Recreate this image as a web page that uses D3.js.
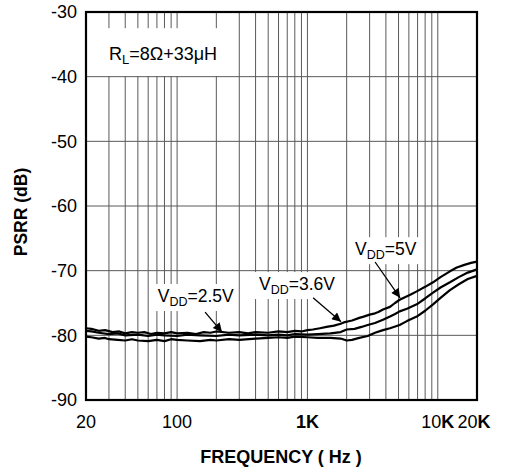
<!DOCTYPE html>
<html><head><meta charset="utf-8">
<script src="https://cdn.jsdelivr.net/npm/d3@7"></script>
<style>
html,body{margin:0;padding:0;background:#fff;}
text{font-family:"Liberation Sans",Arial,sans-serif;}
</style></head>
<body>
<svg id="c" width="508" height="471"></svg>
<script>
// ---- data ----
const yTicks = [-30,-40,-50,-60,-70,-80,-90];
const xTickValues = [20,100,1000,10000,20000];
const xTickLabels = ["20","100","1K","10K","20K"];
const xGrid = [30,40,50,60,70,80,90,100,200,300,400,500,600,700,800,900,1000,2000,3000,4000,5000,6000,7000,8000,9000,10000];
const seriesNames = ["VDD=5V","VDD=3.6V","VDD=2.5V"];
const freq5 = [20,22,25,28,32,36,40,45,50,56,63,70,80,90,100,120,140,160,180,200,250,300,350,400,500,600,700,800,900,1000,1100,1250,1400,1600,1800,1900,2200,2500,2700,3000,3300,3500,3800,4300,4700,5100,5600,6200,6900,8000,9200,10500,12400,14000,16000,18000,20000];
const psrr5 = [-78.9,-79.0,-79.3,-79.2,-79.5,-79.4,-79.7,-79.5,-79.6,-79.5,-79.8,-79.6,-79.7,-79.5,-79.7,-79.6,-79.8,-79.5,-79.6,-79.4,-79.6,-79.5,-79.7,-79.5,-79.6,-79.4,-79.5,-79.3,-79.4,-79.2,-79.1,-78.9,-78.7,-78.5,-78.2,-78.0,-77.7,-77.3,-77.1,-76.8,-76.6,-76.4,-76.0,-75.6,-75.0,-74.5,-74.1,-73.7,-73.2,-72.5,-71.8,-71.0,-70.1,-69.5,-69.1,-68.8,-68.6];
const freq36 = [20,22,25,30,35,40,50,60,70,80,100,120,150,200,250,300,400,500,600,700,800,1000,1200,1500,1800,2000,2300,2600,2900,3300,3800,4300,4700,5100,5800,6900,8000,9200,10500,12400,14500,17000,20000];
const psrr36 = [-79.3,-79.4,-79.6,-79.8,-79.7,-80.0,-79.9,-80.1,-79.9,-80.0,-80.1,-79.9,-80.0,-80.1,-79.9,-80.0,-79.9,-80.0,-79.9,-80.0,-79.8,-79.9,-79.8,-79.7,-79.5,-79.1,-79.0,-78.7,-78.4,-78.1,-77.6,-77.1,-76.7,-76.3,-75.9,-75.2,-74.3,-73.4,-72.6,-71.8,-71.0,-70.3,-69.8];
const freq25 = [20,22,25,28,30,35,40,45,50,60,70,80,90,100,120,150,180,200,250,300,400,500,600,700,800,1000,1200,1500,1800,2000,2200,2500,2900,3300,3800,4300,5100,5800,6900,8000,9200,10500,12400,14500,17000,20000];
const psrr25 = [-80.2,-80.3,-80.5,-80.4,-80.6,-80.7,-80.8,-80.6,-80.8,-80.9,-80.7,-80.9,-80.6,-80.7,-80.8,-80.9,-80.7,-80.8,-80.6,-80.7,-80.5,-80.4,-80.3,-80.4,-80.2,-80.3,-80.4,-80.4,-80.5,-80.8,-80.7,-80.4,-80.1,-79.6,-79.2,-78.9,-78.4,-77.8,-77.1,-76.2,-75.2,-74.2,-73.0,-72.1,-71.3,-70.8];

// annotation anchors in data units (freq, dB)
const labelAnchors = [
  {main:"V", sub:"DD", rest:"=2.5V", f:71, v:-74.85, tip:[221,-79.5], tail:[164,-76.4]},
  {main:"V", sub:"DD", rest:"=3.6V", f:425, v:-73.0, tip:[1811,-77.9], tail:[1105,-74.2]},
  {main:"V", sub:"DD", rest:"=5V", f:2320, v:-67.6, tip:[5140,-74.2], tail:[3304,-68.66]}
];

// ---- layout ----
const svg = d3.select("#c");
const L = 86, T = 12, R = 477, B = 400;
const x = d3.scaleLog().domain([20,20000]).range([L,R]);
const y = d3.scaleLinear().domain([-90,-30]).range([B,T]);

// grid
const g = svg.append("g");
g.selectAll("line.v").data(xGrid).join("line")
  .attr("x1",d=>x(d)).attr("x2",d=>x(d)).attr("y1",T).attr("y2",B)
  .attr("stroke","#5a5a5a").attr("stroke-width",1);
g.selectAll("line.h").data(yTicks.slice(1,-1)).join("line")
  .attr("y1",d=>y(d)).attr("y2",d=>y(d)).attr("x1",L).attr("x2",R)
  .attr("stroke","#5a5a5a").attr("stroke-width",1);

// white box behind RL label
svg.append("rect").attr("x",L+1).attr("y",y(-32.5))
  .attr("width",x(283)-L-1).attr("height",y(-39.9)-y(-32.5)).attr("fill","#fff");

// label backgrounds
const lblG = svg.append("g");
labelAnchors.forEach(a=>{
  const tx = x(a.f), ty = y(a.v);
  const t = lblG.append("text").attr("x",tx).attr("y",ty).attr("font-size",17.5).attr("fill","#000");
  t.append("tspan").text(a.main);
  t.append("tspan").attr("font-size",12.5).attr("dy",4).text(a.sub);
  t.append("tspan").attr("dy",-4).text(a.rest);
  const bb = t.node().getBBox();
  lblG.insert("rect","text").attr("x",bb.x-4).attr("y",bb.y-2).attr("width",bb.width+8).attr("height",bb.height+4).attr("fill","#fff");
});

// curves
const line = d3.line().x(d=>x(d[0])).y(d=>y(d[1]));
const series = [d3.zip(freq5,psrr5), d3.zip(freq36,psrr36), d3.zip(freq25,psrr25)];
svg.append("g").selectAll("path").data(series).join("path")
  .attr("d",line).attr("fill","none").attr("stroke","#000").attr("stroke-width",2.2).attr("stroke-linejoin","round");

// arrows
const defs = svg.append("defs");
defs.append("marker").attr("id","ah").attr("viewBox","0 0 10 10").attr("refX",10).attr("refY",5)
  .attr("markerWidth",11).attr("markerHeight",9).attr("markerUnits","userSpaceOnUse").attr("orient","auto")
  .append("path").attr("d","M0,0L10,5L0,10Z").attr("fill","#000");
svg.append("g").selectAll("line").data(labelAnchors).join("line")
  .attr("x1",d=>x(d.tail[0])).attr("y1",d=>y(d.tail[1]))
  .attr("x2",d=>x(d.tip[0])).attr("y2",d=>y(d.tip[1]))
  .attr("stroke","#000").attr("stroke-width",1.3).attr("marker-end","url(#ah)");

// frame
svg.append("rect").attr("x",L).attr("y",T).attr("width",R-L).attr("height",B-T)
  .attr("fill","none").attr("stroke","#000").attr("stroke-width",2.2);

// RL label
const rl = svg.append("text").attr("x",x(30)).attr("y",y(-37.4)).attr("font-size",18);
rl.append("tspan").text("R");
rl.append("tspan").attr("font-size",13).attr("dy",4).text("L");
rl.append("tspan").attr("dy",-4).text("=8Ω+33μH");

// y tick labels
svg.append("g").selectAll("text").data(yTicks).join("text")
  .attr("x",L-9).attr("y",d=>y(d)).attr("dy","0.35em").attr("text-anchor","end")
  .attr("font-size",18).text(d=>d);

// x tick labels
const xt = svg.append("g").selectAll("text").data(xTickValues).join("text")
  .attr("x",(d,i)=>x(d)+(i===4?-3:0)).attr("y",428).attr("text-anchor","middle").attr("font-size",18);
xt.each(function(d,i){
  const s = xTickLabels[i];
  const t = d3.select(this);
  if (s.endsWith("K")) {
    t.append("tspan").attr("font-weight", s==="1K"?"bold":"normal").text(s.slice(0,-1));
    t.append("tspan").attr("font-weight","bold").text("K");
  } else t.text(s);
});

// axis titles
svg.append("text").attr("x",281).attr("y",463).attr("text-anchor","middle")
  .attr("font-size",18).attr("font-weight","bold").text("FREQUENCY ( Hz )");
svg.append("text").attr("transform","translate(27,212) rotate(-90)").attr("text-anchor","middle")
  .attr("font-size",17.5).attr("font-weight","bold").text("PSRR (dB)");
</script>
</body></html>
